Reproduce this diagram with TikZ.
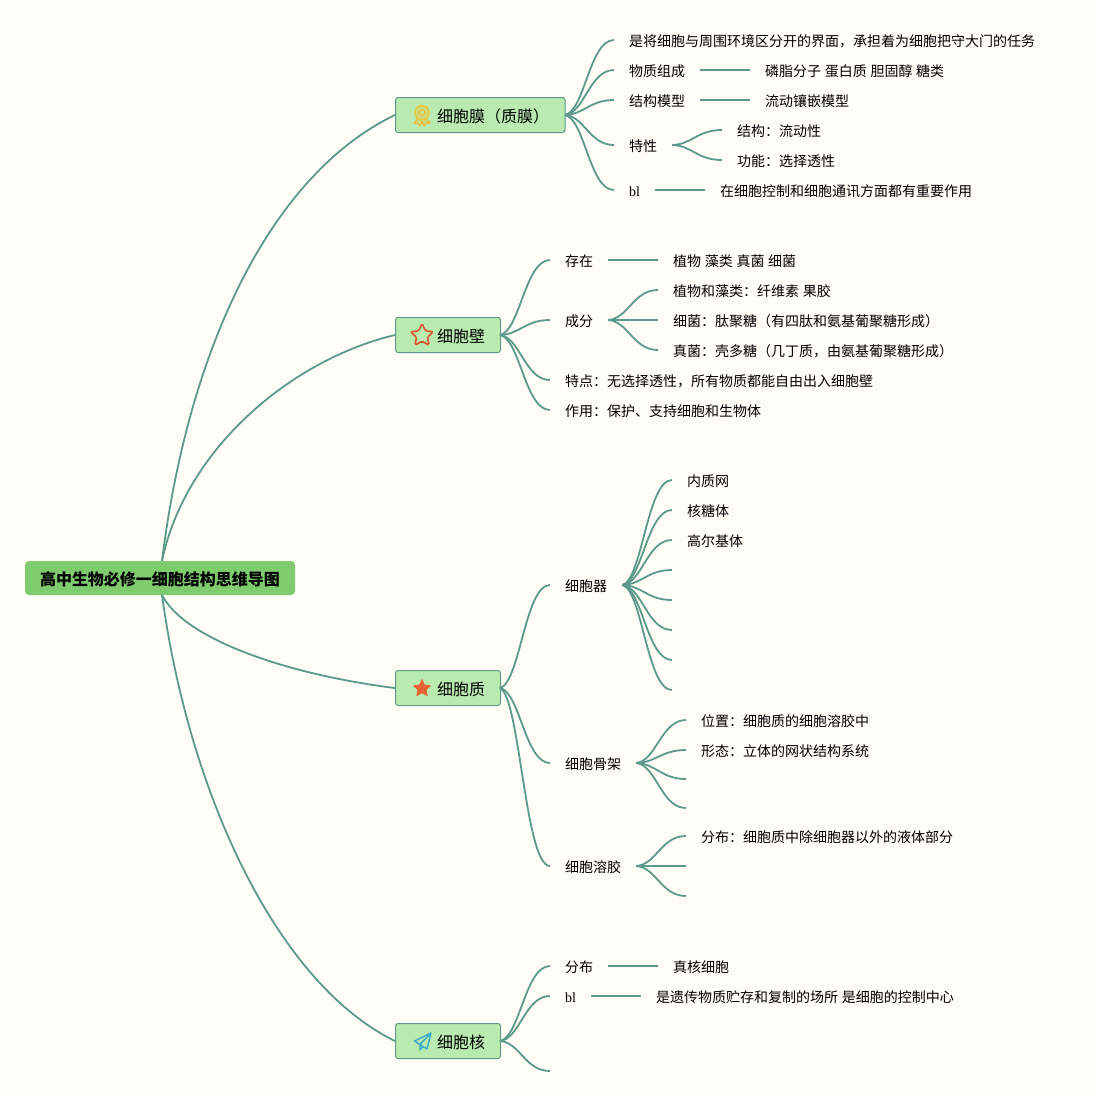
\documentclass[tikz,border=0pt]{standalone}
\usepackage{fontspec}
\setmainfont[WordSpace=1.17]{Noto Sans CJK SC}
\newfontfamily\latinserif{Liberation Serif}
\usetikzlibrary{calc,shapes.geometric}
\definecolor{bgc}{HTML}{FFFDF5}
\definecolor{linkc}{HTML}{5B9A8B}
\definecolor{branchc}{HTML}{B9EBB0}
\definecolor{rootc}{HTML}{7FCC6F}
\definecolor{goldc}{HTML}{E9C63C}
\definecolor{goldd}{HTML}{EDB93A}
\tikzset{
  link/.style={draw=linkc,line width=1.8pt},
  rootbox/.style={fill=rootc,rounded corners=4pt,minimum width=270pt,minimum height=34pt,inner sep=0pt,text height=14.2pt,text depth=0pt,font=\fontsize{16}{16}\selectfont\bfseries,text=black},
  branchbox/.style={fill=branchc,draw=linkc,line width=1pt,rounded corners=2.5pt,minimum height=35pt,anchor=west,inner sep=0pt},
  branchtext/.style={font=\fontsize{16}{16}\selectfont,anchor=west,inner sep=0pt,text=black},
  leaf/.style={font=\fontsize{14}{14}\selectfont,anchor=west,inner xsep=15pt,inner ysep=0pt,text height=13.6pt,text depth=0pt,text=black},
}
\newcommand\mmlink[2]{\draw[link] let \p1=(#1),\p2=(#2) in (\p1) .. controls ({\x1+0.4*(\x2-\x1)},{\y1+0.05*(\y2-\y1)}) and ({\x1+0.5*(\x2-\x1)},\y2) .. (\p2);}
\begin{document}
\begin{tikzpicture}[x=1pt,y=-1pt]
\useasboundingbox (0,0) rectangle (1095,1096);
\fill[bgc] (0,0) rectangle (1095,1096);
% root and branches
\node[rootbox] (root) at (160,578) {高中生物必修一细胞结构思维导图};
\coordinate (rootup) at (162,561);
\coordinate (rootdown) at (162,595);
\node[branchbox,minimum width=169.5pt] (mo) at (395,115) {};
\node[branchbox,minimum width=105pt] (bi) at (395,335) {};
\node[branchbox,minimum width=105pt] (zhi) at (395,688) {};
\node[branchbox,minimum width=105pt] (he) at (395,1041) {};
\node[branchtext] (motext) at (437,116) {细胞膜（质膜）};
\node[branchtext] (bitext) at (437,336) {细胞壁};
\node[branchtext] (zhitext) at (437,689) {细胞质};
\node[branchtext] (hetext) at (437,1042) {细胞核};
\draw[link] (rootup) .. controls (188,350) and (270,175) .. (mo.west);
\draw[link] (rootup) .. controls (185,450) and (290,360) .. (bi.west);
\draw[link] (rootdown) .. controls (185,640) and (290,675) .. (zhi.west);
\draw[link] (rootdown) .. controls (190,800) and (280,985) .. (he.west);
% icons
\begin{scope}[shift={(422,115)}]
  \draw[color=goldd,line width=1.2pt,fill=goldc!45!branchc,line join=round] (-4,3) -- (-8,8) -- (-4.5,8.5) -- (-2,11) -- (0,6.5) -- (2,11) -- (4.5,8.5) -- (8,8) -- (4,3);
  \draw[color=goldc,line width=1.5pt,fill=branchc!55!goldc] (0,-2.5) circle (7);
  \draw[color=goldd,line width=1pt,fill=branchc!70!goldc] (0,-2.5) circle (3);
\end{scope}
\node[star,star points=5,star point ratio=2.1,draw={rgb,255:red,222;green,84;blue,44},line width=1.6pt,minimum size=24pt,inner sep=0pt,rounded corners=1.5pt] (staricon) at (422,335.5) {};
\node[star,star points=5,star point ratio=2.2,fill={rgb,255:red,232;green,100;blue,52},minimum size=20pt,inner sep=0pt,rounded corners=1pt] (starfill) at (422,688.5) {};
\draw[color={rgb,255:red,56;green,170;blue,205},line width=1.4pt,line join=round] (431,1033) -- (414.5,1041) -- (420,1044.5) -- (431,1033) -- (427,1049) -- (420,1044.5) -- (420,1050) -- (423,1046.5);
% first branch
\coordinate (mohub) at (565,115);
\node[leaf] (a1) at (614,40) {是将细胞与周围环境区分开的界面，承担着为细胞把守大门的任务};
\node[leaf] (a2) at (614,70) {物质组成};
\node[leaf] (a2v) at (750,70) {磷脂分子 蛋白质 胆固醇 糖类};
\node[leaf] (a3) at (614,100) {结构模型};
\node[leaf] (a3v) at (750,100) {流动镶嵌模型};
\node[leaf] (a4) at (614,145) {特性};
\node[leaf] (a41) at (722,130) {结构：流动性};
\node[leaf] (a42) at (722,160) {功能：选择透性};
\node[leaf] (a5) at (614,190) {\latinserif bl};
\node[leaf] (a5v) at (705,190) {在细胞控制和细胞通讯方面都有重要作用};
\mmlink{mohub}{a1.west}
\mmlink{mohub}{a2.west}
\mmlink{mohub}{a3.west}
\mmlink{mohub}{a4.west}
\mmlink{mohub}{a5.west}
\draw[link] (a2.east) -- (a2v.west);
\draw[link] (a3.east) -- (a3v.west);
\draw[link] (a5.east) -- (a5v.west);
\mmlink{a4.east}{a41.west}
\mmlink{a4.east}{a42.west}
% second branch
\coordinate (bihub) at (500,335);
\node[leaf] (b1) at (550,260) {存在};
\node[leaf] (b1v) at (658,260) {植物 藻类 真菌 细菌};
\node[leaf] (b2) at (550,320) {成分};
\node[leaf] (b21) at (658,290) {植物和藻类：纤维素 果胶};
\node[leaf] (b22) at (658,320) {细菌：肽聚糖（有四肽和氨基葡聚糖形成）};
\node[leaf] (b23) at (658,350) {真菌：壳多糖（几丁质，由氨基葡聚糖形成）};
\node[leaf] (b3) at (550,380) {特点：无选择透性，所有物质都能自由出入细胞壁};
\node[leaf] (b4) at (550,410) {作用：保护、支持细胞和生物体};
\mmlink{bihub}{b1.west}
\mmlink{bihub}{b2.west}
\mmlink{bihub}{b3.west}
\mmlink{bihub}{b4.west}
\draw[link] (b1.east) -- (b1v.west);
\mmlink{b2.east}{b21.west}
\draw[link] (b2.east) -- (b22.west);
\mmlink{b2.east}{b23.west}
% third branch
\coordinate (zhihub) at (500,688);
\node[leaf] (c1) at (550,585) {细胞器};
\node[leaf] (c11) at (672,480) {内质网};
\node[leaf] (c12) at (672,510) {核糖体};
\node[leaf] (c13) at (672,540) {高尔基体};
\coordinate (c14) at (672,570);
\coordinate (c15) at (672,600);
\coordinate (c16) at (672,630);
\coordinate (c17) at (672,660);
\coordinate (c18) at (672,690);
\node[leaf] (c2) at (550,763) {细胞骨架};
\node[leaf] (c21) at (686,720) {位置：细胞质的细胞溶胶中};
\node[leaf] (c22) at (686,750) {形态：立体的网状结构系统};
\coordinate (c23) at (686,779);
\coordinate (c24) at (686,808);
\node[leaf] (c3) at (550,866) {细胞溶胶};
\node[leaf] (c31) at (686,836) {分布：细胞质中除细胞器以外的液体部分};
\coordinate (c32) at (686,866);
\coordinate (c33) at (686,896);
\mmlink{zhihub}{c1.west}
\mmlink{zhihub}{c2.west}
\mmlink{zhihub}{c3.west}
\mmlink{c1.east}{c11.west}
\mmlink{c1.east}{c12.west}
\mmlink{c1.east}{c13.west}
\mmlink{c1.east}{c14}
\mmlink{c1.east}{c15}
\mmlink{c1.east}{c16}
\mmlink{c1.east}{c17}
\mmlink{c1.east}{c18}
\mmlink{c2.east}{c21.west}
\mmlink{c2.east}{c22.west}
\mmlink{c2.east}{c23}
\mmlink{c2.east}{c24}
\mmlink{c3.east}{c31.west}
\draw[link] (c3.east) -- (c32);
\mmlink{c3.east}{c33}
% fourth branch
\coordinate (hehub) at (500,1041);
\node[leaf] (d1) at (550,966) {分布};
\node[leaf] (d1v) at (658,966) {真核细胞};
\node[leaf] (d2) at (550,996) {\latinserif bl};
\node[leaf] (d2v) at (641,996) {是遗传物质贮存和复制的场所 是细胞的控制中心};
\coordinate (d3) at (550,1071);
\mmlink{hehub}{d1.west}
\mmlink{hehub}{d2.west}
\mmlink{hehub}{d3}
\draw[link] (d1.east) -- (d1v.west);
\draw[link] (d2.east) -- (d2v.west);
\end{tikzpicture}
\end{document}
